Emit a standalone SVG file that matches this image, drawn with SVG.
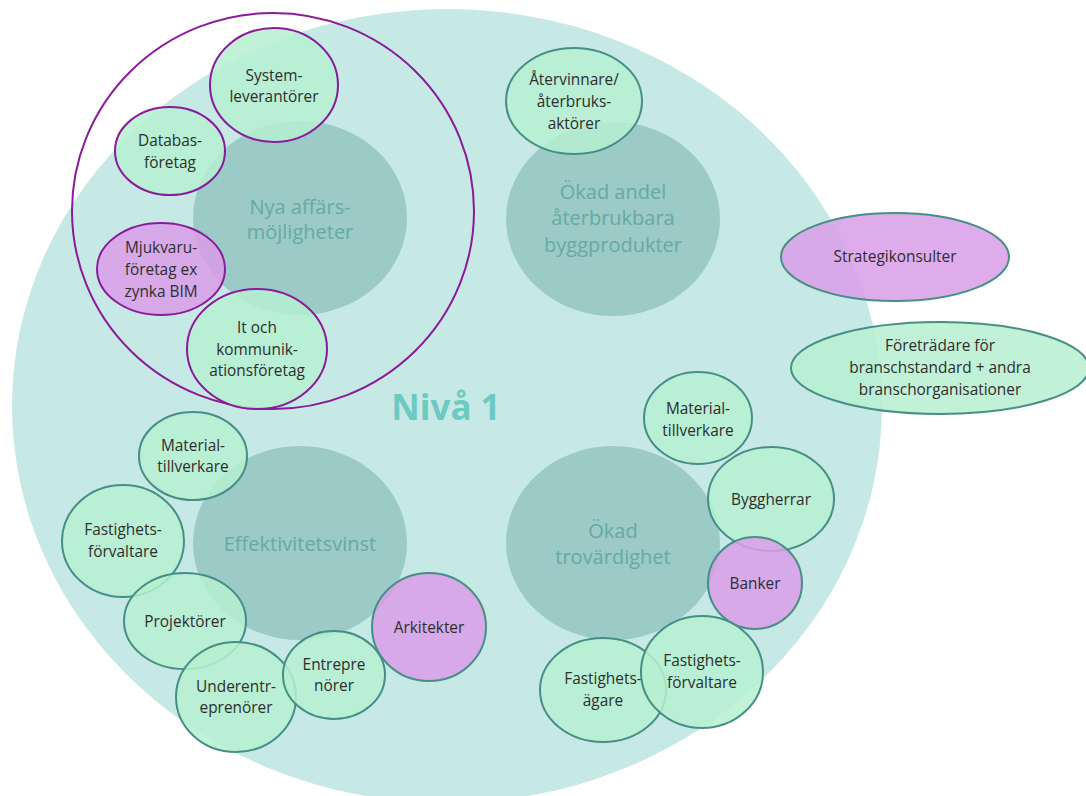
<svg xmlns="http://www.w3.org/2000/svg" width="1086" height="796" viewBox="0 0 1086 796">
  <style>
    .lvl { fill: #c6e9e6; }
    .goal { fill: #9ccac7; }
    .goal-t { font-family: "Open Sans", "Noto Sans", sans-serif; font-size: 20px; fill: #66a9a5; text-anchor: middle; }
    .nv { font-family: "Open Sans", "Noto Sans", sans-serif; font-size: 35px; font-weight: bold; fill: #6ccac3; text-anchor: middle; }
    .n { stroke-width: 2; fill-opacity: 0.85; }
    .green { fill: #b6f0d0; }
    .purple { fill: #d99de8; }
    .ts { stroke: #468f85; }
    .ps { stroke: #8a1b9a; }
    .lbl { font-family: "Open Sans", "Noto Sans", sans-serif; font-size: 15.4px; fill: #2e2e2e; text-anchor: middle; }
    .ring { fill: none; stroke: #8a1b9a; stroke-width: 2; }
  </style>

  <!-- level area -->
  <g id="level1">
    <ellipse class="lvl" cx="447" cy="406" rx="435" ry="397"/>
  </g>

  <!-- goal circles -->
  <g id="goal-nya">
    <ellipse class="goal" cx="300" cy="218" rx="107" ry="97"/>
    <text class="goal-t" x="300" y="214">Nya affärs-</text>
    <text class="goal-t" x="300" y="239">möjligheter</text>
  </g>
  <g id="goal-aterbruk">
    <ellipse class="goal" cx="613" cy="219" rx="107" ry="97"/>
    <text class="goal-t" x="613" y="199">Ökad andel</text>
    <text class="goal-t" x="613" y="225">återbrukbara</text>
    <text class="goal-t" x="613" y="252">byggprodukter</text>
  </g>
  <g id="goal-effektivitet">
    <ellipse class="goal" cx="300" cy="543" rx="107" ry="97"/>
    <text class="goal-t" x="300" y="551">Effektivitetsvinst</text>
  </g>
  <g id="goal-trovardighet">
    <ellipse class="goal" cx="613" cy="543" rx="107" ry="97"/>
    <text class="goal-t" x="613" y="538">Ökad</text>
    <text class="goal-t" x="613" y="564">trovärdighet</text>
  </g>

  <g id="level-label">
    <text class="nv" x="446" y="420">Nivå 1</text>
  </g>

  <!-- digital actors cluster -->
  <g id="cluster-digital">
    <ellipse class="ring" cx="273" cy="211" rx="201" ry="198"/>
  </g>
  <g id="n-system">
    <ellipse class="n green ps" cx="274" cy="85" rx="64" ry="57"/>
    <text class="lbl" x="274" y="81">System-</text>
    <text class="lbl" x="274" y="102">leverantörer</text>
  </g>
  <g id="n-databas">
    <ellipse class="n green ps" cx="170" cy="151" rx="55" ry="44"/>
    <text class="lbl" x="170" y="146">Databas-</text>
    <text class="lbl" x="170" y="168">företag</text>
  </g>
  <g id="n-mjukvaru">
    <ellipse class="n purple ps" cx="161" cy="269" rx="64" ry="46"/>
    <text class="lbl" x="161" y="253">Mjukvaru-</text>
    <text class="lbl" x="161" y="275">företag ex</text>
    <text class="lbl" x="161" y="297">zynka BIM</text>
  </g>
  <g id="n-it">
    <ellipse class="n green ps" cx="257" cy="349" rx="70" ry="60"/>
    <text class="lbl" x="257" y="333">It och</text>
    <text class="lbl" x="257" y="355">kommunik-</text>
    <text class="lbl" x="257" y="376">ationsföretag</text>
  </g>

  <!-- recycling -->
  <g id="n-atervinnare">
    <ellipse class="n green ts" cx="574" cy="101" rx="68" ry="53"/>
    <text class="lbl" x="574" y="85">Återvinnare/</text>
    <text class="lbl" x="574" y="107">återbruks-</text>
    <text class="lbl" x="574" y="129">aktörer</text>
  </g>

  <!-- outside actors -->
  <g id="n-strategi">
    <ellipse class="n purple ts" cx="895" cy="257" rx="114" ry="44"/>
    <text class="lbl" x="895" y="262">Strategikonsulter</text>
  </g>
  <g id="n-foretradare">
    <ellipse class="n green ts" cx="940" cy="368" rx="149" ry="46"/>
    <text class="lbl" x="940" y="351">Företrädare för</text>
    <text class="lbl" x="940" y="373">branschstandard + andra</text>
    <text class="lbl" x="940" y="395">branschorganisationer</text>
  </g>

  <!-- credibility actors -->
  <g id="n-material-r">
    <ellipse class="n green ts" cx="698" cy="418" rx="54" ry="46"/>
    <text class="lbl" x="698" y="414">Material-</text>
    <text class="lbl" x="698" y="436">tillverkare</text>
  </g>
  <g id="n-byggherrar">
    <ellipse class="n green ts" cx="771" cy="499" rx="63" ry="52"/>
    <text class="lbl" x="771" y="505">Byggherrar</text>
  </g>
  <g id="n-banker">
    <ellipse class="n purple ts" cx="755" cy="583" rx="47" ry="46"/>
    <text class="lbl" x="755" y="589">Banker</text>
  </g>
  <g id="n-fastighetsagare">
    <ellipse class="n green ts" cx="603" cy="690" rx="63" ry="52"/>
    <text class="lbl" x="603" y="684">Fastighets-</text>
    <text class="lbl" x="603" y="706">ägare</text>
  </g>
  <g id="n-forvaltare-r">
    <ellipse class="n green ts" cx="702" cy="672" rx="61" ry="56"/>
    <text class="lbl" x="702" y="666">Fastighets-</text>
    <text class="lbl" x="702" y="688">förvaltare</text>
  </g>

  <!-- efficiency actors -->
  <g id="n-material-l">
    <ellipse class="n green ts" cx="193" cy="456" rx="54" ry="44"/>
    <text class="lbl" x="193" y="451">Material-</text>
    <text class="lbl" x="193" y="472">tillverkare</text>
  </g>
  <g id="n-forvaltare-l">
    <ellipse class="n green ts" cx="123" cy="541" rx="61" ry="56"/>
    <text class="lbl" x="123" y="535">Fastighets-</text>
    <text class="lbl" x="123" y="557">förvaltare</text>
  </g>
  <g id="n-projektorer">
    <ellipse class="n green ts" cx="185" cy="621" rx="61" ry="48"/>
    <text class="lbl" x="185" y="627">Projektörer</text>
  </g>
  <g id="n-underentreprenorer">
    <ellipse class="n green ts" cx="236" cy="697" rx="60" ry="55"/>
    <text class="lbl" x="236" y="692">Underentr-</text>
    <text class="lbl" x="236" y="713">eprenörer</text>
  </g>
  <g id="n-entreprenorer">
    <ellipse class="n green ts" cx="334" cy="675" rx="51" ry="44"/>
    <text class="lbl" x="334" y="670">Entrepre</text>
    <text class="lbl" x="334" y="691">nörer</text>
  </g>
  <g id="n-arkitekter">
    <ellipse class="n purple ts" cx="429" cy="627" rx="57" ry="54"/>
    <text class="lbl" x="429" y="633">Arkitekter</text>
  </g>

  <!-- no connectors in this diagram -->
  <g id="connectors"/>
</svg>
